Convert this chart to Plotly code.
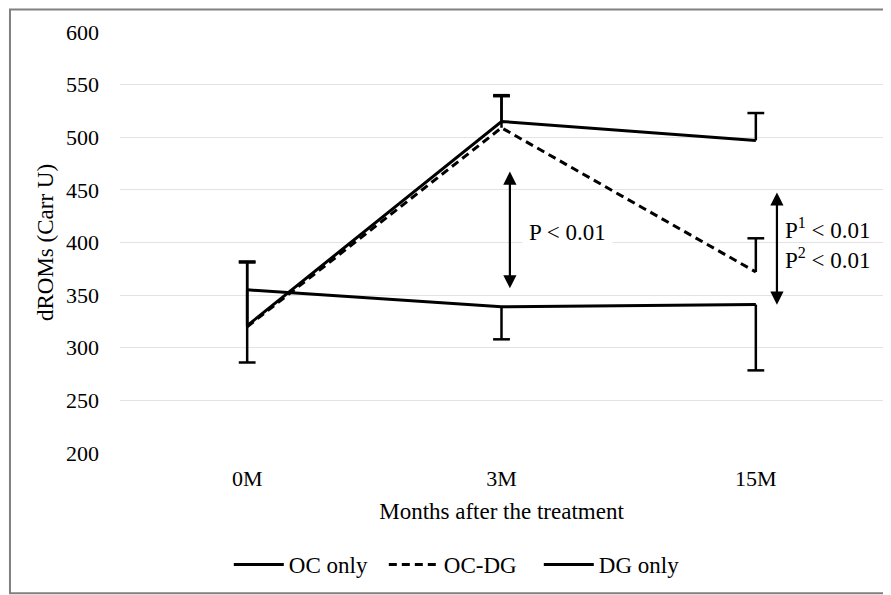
import plotly.graph_objects as go

categories = ["0M", "3M", "15M"]
oc_only = [321, 515, 497]
oc_dg = [320, 509, 372]
dg_only = [355, 339, 341]
oc_only_err_plus = [61, 25, 26]
oc_dg_err_plus = [61, 30, 32]
dg_only_err_minus = [69, 31, 62.5]

x = list(range(len(categories)))
FONT = "Liberation Serif"
ZERO = [0] * len(categories)

fig = go.Figure()


def add_series(name, vals, plus, minus, dash, cap_sign):
    fig.add_trace(go.Scatter(
        x=x, y=vals, mode="lines", name=name,
        line=dict(color="black", width=3, dash=dash),
        error_y=dict(type="data", symmetric=False, array=plus, arrayminus=minus,
                     color="black", thickness=2.5, width=0),
    ))
    errs = plus if cap_sign > 0 else minus
    cap_y = [v + cap_sign * e for v, e in zip(vals, errs)]
    fig.add_trace(go.Scatter(
        x=x, y=cap_y, mode="markers", showlegend=False, hoverinfo="skip",
        marker=dict(symbol="line-ew", size=12, color="black",
                    line=dict(color="black", width=2.5)),
    ))


add_series("OC only", oc_only, oc_only_err_plus, ZERO, "solid", 1)
add_series("OC-DG", oc_dg, oc_dg_err_plus, ZERO, "8px,5px", 1)
add_series("DG only", dg_only, ZERO, dg_only_err_minus, "solid", -1)

# double-headed arrows
arrows = [(1.033, 355, 467.5), (2.083, 339.5, 447.6)]
for ax_, y0, y1 in arrows:
    fig.add_annotation(x=ax_, y=y1, ax=ax_, ay=y0, xref="x", yref="y",
                       axref="x", ayref="y", text="", showarrow=True,
                       arrowhead=2, startarrowhead=2, arrowside="end+start",
                       arrowsize=1.2, startarrowsize=1.2, arrowwidth=2.2,
                       arrowcolor="black", standoff=0, startstandoff=0)

fig.add_annotation(x=1.261, y=409.7, xref="x", yref="y", text="P < 0.01",
                   showarrow=False, font=dict(family=FONT, size=23, color="black"),
                   bgcolor="white", borderpad=6)
fig.add_annotation(x=2.108, y=399.4, xref="x", yref="y",
                   text="P<sup>1</sup> < 0.01<br>P<sup>2</sup> < 0.01",
                   showarrow=False, xanchor="left", align="left",
                   font=dict(family=FONT, size=23, color="black"))

# outer border
fig.add_shape(type="rect", xref="paper", yref="paper",
              x0=-0.1442, x1=1.03, y0=-0.333, y1=1.0534,
              line=dict(color="#808080", width=2), fillcolor="rgba(0,0,0,0)")

fig.update_layout(
    width=883, height=587,
    margin=dict(l=112, r=8, t=23.5, b=142.3),
    paper_bgcolor="white", plot_bgcolor="white",
    font=dict(family=FONT, size=22, color="black"),
    showlegend=True,
    legend=dict(orientation="h", x=0.1426, xanchor="left", y=-0.265, yanchor="middle",
                font=dict(family=FONT, size=23, color="black"),
                itemwidth=50, entrywidth=90, entrywidthmode="pixels",
                tracegroupgap=0, bgcolor="rgba(0,0,0,0)"),
    xaxis=dict(range=[-0.5, 2.5], tickvals=x, ticktext=categories,
               showgrid=False, zeroline=False, showline=False, ticks="",
               ticklabelstandoff=10, automargin=False,
               title=dict(text="Months after the treatment", standoff=12,
                          font=dict(family=FONT, size=23))),
    yaxis=dict(range=[200, 600], dtick=50, showgrid=True, gridcolor="#e3e3e3",
               gridwidth=1, zeroline=False, showline=False, ticks="",
               ticklabelstandoff=20, automargin=False,
               title=dict(text="dROMs (Carr U)", standoff=5,
                          font=dict(family=FONT, size=23))),
)

fig.write_html("out.html")
